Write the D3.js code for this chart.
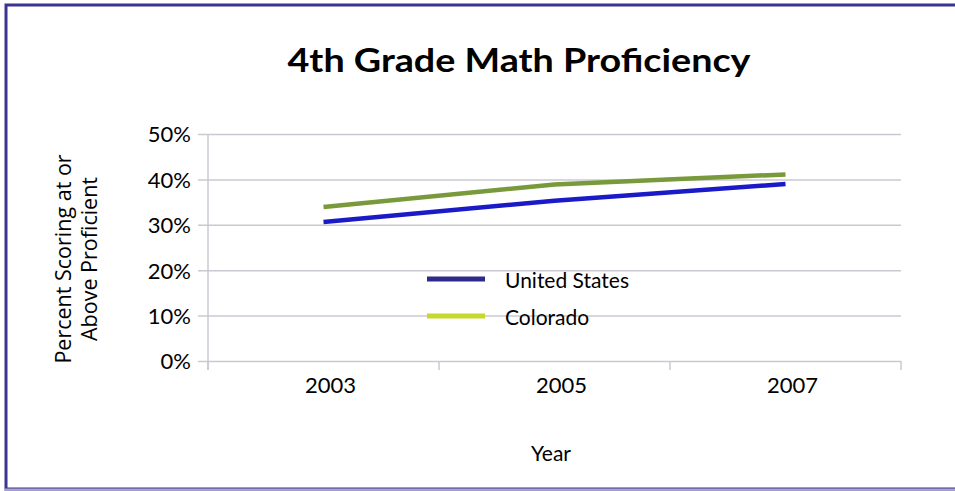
<!DOCTYPE html>
<html>
<head>
<meta charset="utf-8">
<script src="https://cdn.jsdelivr.net/npm/d3@7"></script>
<style>
  body { margin: 0; background: #fff; }
  svg { display: block; }
  .tick text { font-family: Lato, sans-serif; fill: #000; }
</style>
</head>
<body>
<svg id="chart"></svg>
<script>
const years = ['2003', '2005', '2007'];
const unitedStates = [30.6, 35.3, 39.0];
const colorado = [33.9, 38.9, 41.1];
const yTicks = [0, 10, 20, 30, 40, 50];

const series = [
  { name: 'United States', values: unitedStates, line: '#1a1ac8', key: '#2e2a8c' },
  { name: 'Colorado', values: colorado, line: '#789a3a', key: '#c6d82c' }
];

const width = 955, height = 491;
const margin = { top: 134, right: 54, bottom: 130, left: 208 };

const svg = d3.select('#chart')
    .attr('width', width)
    .attr('height', height);

// frame
svg.append('rect')
    .attr('x', 6).attr('y', 5)
    .attr('width', 970).attr('height', 484)
    .attr('fill', 'none')
    .attr('stroke', '#3b3592')
    .attr('stroke-width', 3);
svg.append('line')
    .attr('x1', 4).attr('x2', 955)
    .attr('y1', 489.5).attr('y2', 489.5)
    .attr('stroke', '#a9a4d2')
    .attr('stroke-width', 2);

svg.append('text')
    .attr('x', 519)
    .attr('y', 72)
    .attr('text-anchor', 'middle')
    .attr('textLength', 463)
    .attr('lengthAdjust', 'spacingAndGlyphs')
    .style('font-family', 'Lato, sans-serif')
    .style('font-weight', 'bold')
    .style('font-size', '33px')
    .text('4th Grade Math Proficiency');

const xScale = d3.scaleBand()
    .domain(years)
    .range([margin.left, width - margin.right]);

const yScale = d3.scaleLinear()
    .domain([0, 50])
    .range([height - margin.bottom, margin.top]);

// gridlines + y labels
const yAxis = d3.axisLeft(yScale)
    .tickValues(yTicks)
    .tickSize(0)
    .tickFormat(d => d + '%');

const gy = svg.append('g')
    .attr('transform', 'translate(' + (margin.left - 10) + ',0)')
    .call(yAxis);
gy.select('.domain').remove();
gy.selectAll('.tick line')
    .attr('x1', 0)
    .attr('x2', width - margin.right - margin.left + 10)
    .attr('stroke', '#c9c9d1')
    .attr('stroke-width', 1.5);
gy.selectAll('.tick text')
    .attr('x', -7)
    .attr('dy', '0.36em')
    .style('font-size', '22px');

// y axis line
svg.append('line')
    .attr('x1', margin.left).attr('x2', margin.left)
    .attr('y1', margin.top).attr('y2', height - margin.bottom + 9)
    .attr('stroke', '#c9c9d1')
    .attr('stroke-width', 1.5);

// x axis category ticks
const xEdges = years.map(d => xScale(d)).concat([xScale(years[years.length - 1]) + xScale.bandwidth()]);
svg.append('g').selectAll('line')
    .data(xEdges)
  .enter().append('line')
    .attr('x1', d => d).attr('x2', d => d)
    .attr('y1', height - margin.bottom)
    .attr('y2', height - margin.bottom + 9)
    .attr('stroke', '#c9c9d1')
    .attr('stroke-width', 1.5);

svg.append('g').selectAll('text')
    .data(years)
  .enter().append('text')
    .attr('x', d => xScale(d) + xScale.bandwidth() / 2 + 7)
    .attr('y', height - margin.bottom + 32)
    .attr('text-anchor', 'middle')
    .style('font-family', 'Lato, sans-serif')
    .style('font-size', '22px')
    .text(d => d);

svg.append('text')
    .attr('x', 551)
    .attr('y', 461)
    .attr('text-anchor', 'middle')
    .style('font-family', 'Lato, sans-serif')
    .style('font-size', '21px')
    .text('Year');

const yTitle = svg.append('text')
    .attr('transform', 'translate(71,259) rotate(-90)')
    .attr('text-anchor', 'middle')
    .style('font-family', '"Open Sans", sans-serif')
    .style('font-size', '21.5px');
yTitle.append('tspan').attr('x', 0).attr('dy', 0).text('Percent Scoring at or');
yTitle.append('tspan').attr('x', 0).attr('dy', 26).text('Above Proficient');

// lines
const line = d3.line()
    .x((d, i) => xScale(years[i]) + xScale.bandwidth() / 2)
    .y(d => yScale(d));

svg.selectAll('.series')
    .data(series)
  .enter().append('path')
    .attr('class', 'series')
    .attr('d', d => line(d.values))
    .attr('fill', 'none')
    .attr('stroke', d => d.line)
    .attr('stroke-width', 4.5);

// legend
const legend = svg.append('g').selectAll('g')
    .data(series)
  .enter().append('g')
    .attr('transform', (d, i) => 'translate(427,' + (279 + i * 37) + ')');
legend.append('line')
    .attr('x1', 0).attr('x2', 58)
    .attr('stroke', d => d.key)
    .attr('stroke-width', 5);
legend.append('text')
    .attr('x', 78)
    .attr('y', 9)
    .style('font-family', 'Lato, sans-serif')
    .style('font-size', '21px')
    .text(d => d.name);
</script>
</body>
</html>
